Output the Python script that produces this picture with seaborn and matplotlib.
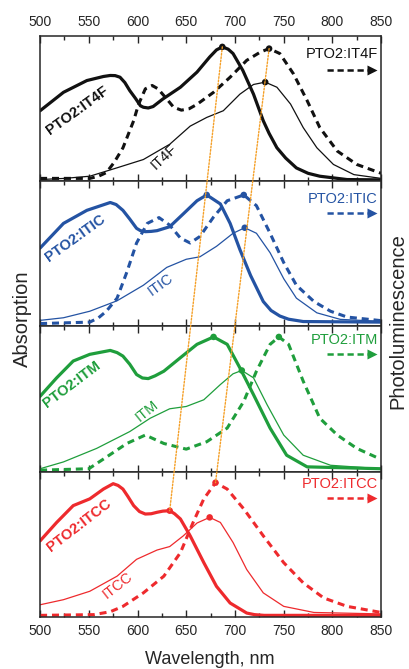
import matplotlib
matplotlib.use("Agg")
import matplotlib.pyplot as plt
import seaborn as sns
from matplotlib.patches import ConnectionPatch
from matplotlib.ticker import MultipleLocator

# ---------------- data (normalised intensity, wavelength in nm) ----------------
# PTO2:IT4F panel
it4f_blend_wl = [500, 524, 548, 565, 572, 577, 582, 587, 592, 598, 603, 606, 611, 616, 626, 644, 661, 674, 681, 687, 693, 698, 708, 719, 729, 735, 743, 752, 763, 775, 787, 815, 850]
it4f_blend_ab = [.486, .613, .694, .722, .729, .728, .717, .68, .625, .57, .52, .51, .505, .515, .567, .648, .752, .856, .905, .926, .91, .88, .764, .60, .417, .33, .231, .16, .092, .055, .035, .012, .01]
it4f_pl_wl = [500, 551, 560, 568, 576, 585, 596, 601, 608, 615, 621, 630, 637, 645, 653, 661, 678, 695, 712, 726, 735, 746, 760, 774, 787, 805, 825, 850]
it4f_pl = [.02, .02, .035, .06, .13, .23, .417, .53, .637, .66, .637, .567, .51, .49, .50, .53, .613, .717, .833, .89, .914, .88, .74, .556, .37, .208, .116, .055]
it4f_wl = [500, 525, 551, 579, 606, 633, 654, 671, 688, 705, 719, 731, 743, 757, 770, 784, 801, 822, 850]
it4f_ab = [.012, .02, .035, .093, .15, .255, .38, .44, .486, .60, .667, .683, .648, .532, .37, .231, .116, .046, .02]

# PTO2:ITIC panel
itic_blend_wl = [500, 524, 548, 572, 578, 585, 592, 599, 603, 608, 614, 620, 633, 647, 661, 671, 685, 695, 705, 716, 729, 737, 746, 755, 770, 850]
itic_blend_ab = [.54, .71, .80, .854, .84, .80, .74, .676, .66, .653, .655, .66, .687, .776, .866, .906, .844, .71, .53, .351, .172, .11, .072, .05, .034, .03]
itic_pl_wl = [500, 551, 560, 568, 579, 589, 599, 610, 622, 633, 644, 654, 664, 678, 692, 709, 722, 736, 750, 763, 781, 798, 815, 850]
itic_pl = [.02, .03, .06, .105, .195, .374, .575, .71, .75, .698, .609, .575, .62, .754, .866, .906, .832, .642, .44, .284, .172, .105, .065, .04]
itic_wl = [500, 524, 551, 579, 606, 630, 650, 664, 681, 698, 710, 722, 736, 750, 763, 784, 808, 850]
itic_ab = [.042, .06, .105, .177, .284, .407, .463, .48, .552, .642, .68, .642, .508, .329, .195, .094, .049, .035]

# PTO2:ITM panel
itm_blend_wl = [500, 517, 534, 551, 572, 579, 585, 592, 599, 605, 611, 618, 627, 644, 661, 678, 692, 705, 719, 736, 753, 774, 850]
itm_blend_ab = [.519, .646, .762, .808, .835, .82, .796, .74, .669, .645, .641, .66, .692, .785, .877, .928, .877, .715, .53, .30, .113, .033, .02]
itm_pl_wl = [500, 550, 568, 589, 608, 627, 650, 671, 692, 709, 722, 736, 745, 755, 770, 787, 805, 825, 848]
itm_pl = [.01, .02, .10, .194, .252, .194, .155, .206, .30, .484, .692, .877, .928, .877, .623, .368, .252, .16, .09]
itm_wl = [500, 524, 558, 592, 613, 633, 650, 668, 685, 698, 707, 719, 733, 750, 770, 798, 850]
itm_ab = [.02, .067, .16, .276, .368, .433, .449, .495, .60, .674, .697, .646, .46, .252, .113, .044, .02]

# PTO2:ITCC panel
itcc_blend_wl = [500, 517, 534, 551, 565, 575, 580, 585, 590, 596, 602, 608, 614, 620, 626, 633, 638, 644, 654, 668, 681, 695, 712, 720, 730, 850]
itcc_blend_ab = [.523, .65, .766, .8125, .88, .917, .905, .88, .83, .766, .725, .708, .71, .72, .728, .731, .71, .674, .558, .373, .21, .095, .026, .015, .01, .01]
itcc_pl_wl = [500, 555, 572, 585, 606, 627, 644, 657, 668, 680, 692, 709, 729, 750, 770, 791, 815, 850]
itcc_pl = [.01, .015, .035, .072, .165, .28, .442, .65, .8125, .924, .88, .743, .558, .373, .234, .13, .072, .03]
itcc_wl = [500, 524, 551, 579, 599, 620, 633, 647, 661, 674, 685, 698, 712, 729, 750, 781, 850]
itcc_ab = [.083, .118, .176, .28, .396, .46, .484, .558, .646, .685, .65, .512, .326, .165, .072, .03, .02]

# marked peak positions: (blend absorption, PL, acceptor absorption)
peak_wl = [[687, 735, 731], [671, 709, 710], [678, 745, 707], [633, 680, 674]]
peak_val = [[.926, .914, .683], [.906, .906, .68], [.928, .928, .697], [.731, .924, .685]]

blend_names = ["PTO2:IT4F", "PTO2:ITIC", "PTO2:ITM", "PTO2:ITCC"]
acceptor_names = ["IT4F", "ITIC", "ITM", "ITCC"]
colors = ["#111111", "#2453a3", "#1f9e3c", "#ee2a2d"]

panels = [
    (it4f_blend_wl, it4f_blend_ab, it4f_pl_wl, it4f_pl, it4f_wl, it4f_ab),
    (itic_blend_wl, itic_blend_ab, itic_pl_wl, itic_pl, itic_wl, itic_ab),
    (itm_blend_wl, itm_blend_ab, itm_pl_wl, itm_pl, itm_wl, itm_ab),
    (itcc_blend_wl, itcc_blend_ab, itcc_pl_wl, itcc_pl, itcc_wl, itcc_ab),
]

# ---------------- label placement ----------------
blend_lab_pos = [(538, .486, 35.7), (536, .61, 35.8), (532, .60, 37), (540, .627, 37.6)]
acc_lab_pos = [(627, .17, 43), (624, .29, 36), (610, .42, 39), (580, .22, 38)]
pl_lab_y = [.88, .88, .91, .915]
pl_arrow_y = [.765, .78, .81, .82]

sns.set_style("ticks")
plt.rcParams['font.family'] = ['Liberation Sans', 'DejaVu Sans']
plt.rcParams['axes.linewidth'] = 1.1
plt.rcParams['lines.solid_joinstyle'] = 'round'
plt.rcParams['lines.dash_joinstyle'] = 'round'

fig, axes = plt.subplots(4, 1, figsize=(4.09, 6.69), dpi=100, sharex=True)
fig.subplots_adjust(left=0.098, right=0.932, top=0.946, bottom=0.078, hspace=0)

dash = (0, (2.3, 1.6))
for i, ax in enumerate(axes):
    bwl, bab, pwl, pl, awl, aab = panels[i]
    c = colors[i]
    sns.lineplot(x=awl, y=aab, ax=ax, color=c, lw=0.9, sort=False, estimator=None)
    sns.lineplot(x=pwl, y=pl, ax=ax, color=c, lw=2.2, linestyle=dash, sort=False, estimator=None)
    sns.lineplot(x=bwl, y=bab, ax=ax, color=c, lw=2.3, sort=False, estimator=None)
    sns.scatterplot(x=peak_wl[i], y=peak_val[i], ax=ax, color=c, s=22, edgecolor="none", zorder=5)

    ax.set_xlim(500, 850)
    ax.set_ylim(0, 1)
    ax.set_yticks([])
    ax.set_ylabel("")
    ax.xaxis.set_major_locator(MultipleLocator(50))
    ax.xaxis.set_minor_locator(MultipleLocator(25))
    ax.tick_params(axis="x", which="both", direction="in", top=True, bottom=True,
                   labelbottom=(i == 3), labeltop=(i == 0), labelsize=10, pad=5, width=1)
    ax.tick_params(axis="x", which="major", length=5)
    ax.tick_params(axis="x", which="minor", length=3)

    x, y, r = blend_lab_pos[i]
    ax.text(x, y, blend_names[i], rotation=r, color=c, fontsize=10.5, fontweight="bold",
            ha="center", va="center", rotation_mode="anchor")
    x, y, r = acc_lab_pos[i]
    ax.text(x, y, acceptor_names[i], rotation=r, color=c, fontsize=10.5,
            ha="center", va="center", rotation_mode="anchor")

    ax.text(0.99, pl_lab_y[i], blend_names[i], transform=ax.transAxes, color=c,
            fontsize=10.5, ha="right", va="center")
    ya = pl_arrow_y[i]
    ax.plot([0.84, 0.965], [ya, ya], transform=ax.transAxes, color=c, lw=1.8, linestyle=(0, (2.5, 1.5)))
    ax.plot([0.972], [ya], transform=ax.transAxes, color=c, marker=">", ms=7, mec="none")

# guide lines through the peak positions of the top and bottom panels
for k in (0, 1):
    con = ConnectionPatch(xyA=(peak_wl[0][k], peak_val[0][k]), coordsA=axes[0].transData,
                          xyB=(peak_wl[3][k], peak_val[3][k]), coordsB=axes[3].transData,
                          color="#f5a028", lw=1.0, linestyle=(0, (1.2, 1.2)), zorder=10)
    fig.add_artist(con)

fig.text(0.514, 1 - 660 / 669, "Wavelength, nm", ha="center", va="center", fontsize=13)
fig.text(22 / 409, 1 - 319 / 669, "Absorption", ha="center", va="center", rotation=90, fontsize=14.5)
fig.text(398 / 409, 1 - 321 / 669, "Photoluminescence", ha="center", va="center", rotation=90, fontsize=14.5)

fig.savefig("out.png", dpi=100)
